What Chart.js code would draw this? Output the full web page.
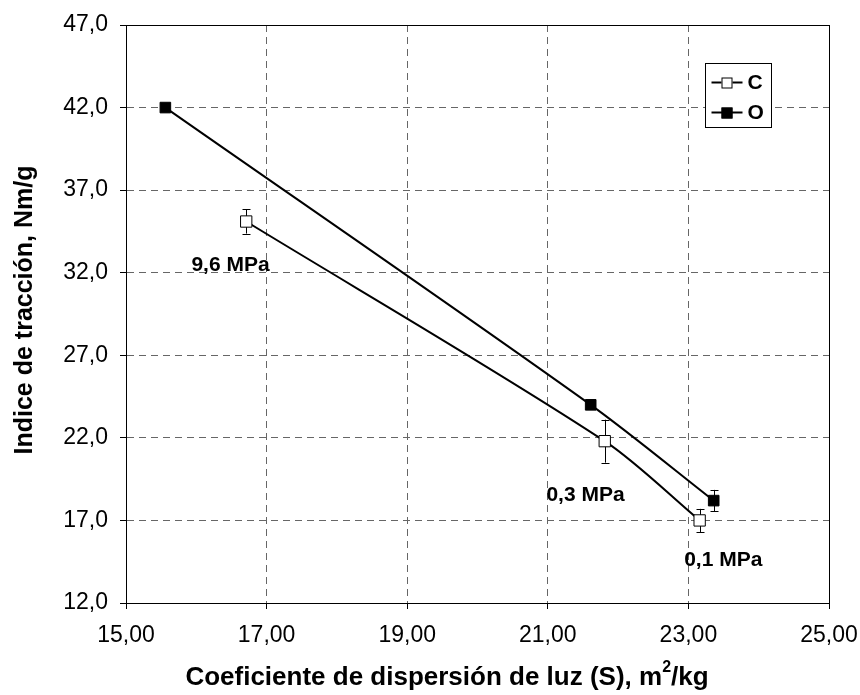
<!DOCTYPE html>
<html>
<head>
<meta charset="utf-8">
<script src="https://cdn.jsdelivr.net/npm/chart.js@4.4.1/dist/chart.umd.min.js"></script>
<style>
  html, body { margin: 0; padding: 0; background: #fff; }
  #wrap { width: 860px; height: 695px; }
</style>
</head>
<body>
<div id="wrap"><canvas id="tensileChart" width="860" height="695"></canvas></div>
<script>
/* ====== DATA ====== */
const seriesNames = ['C', 'O'];
const cScatter = [16.71, 21.81, 23.16];
const cTensile = [35.1, 21.8, 17.0];
const cError   = [0.73, 1.3, 0.7];
const oScatter = [15.56, 21.61, 23.36];
const oTensile = [42.0, 24.0, 18.2];
const oError   = [0.2, 0.2, 0.65];
const pressureNotes = ['9,6 MPa', '0,3 MPa', '0,1 MPa'];
const xTicks = [15, 17, 19, 21, 23, 25];
const yTicks = [12, 17, 22, 27, 32, 37, 42, 47];
const yTitle = 'Indice de tracción, Nm/g';
const xTitleParts = ['Coeficiente de dispersión de luz (S), m', '2', '/kg'];

// where the pressure notes sit (data units: left edge, middle)
const noteAnchors = [[15.93, 32.45], [20.98, 18.5], [22.94, 14.6]];

const FONT = '"Liberation Sans", Arial, sans-serif';

function toPoints(xs, ys) {
  return xs.map((x, i) => ({ x: x, y: ys[i] }));
}

/* ====== PLUGINS ====== */
// plot frame + error bars under the markers
const framePlugin = {
  id: 'frame',
  beforeDatasetsDraw(chart) {
    const { ctx, chartArea: a, scales } = chart;
    ctx.save();
    ctx.strokeStyle = '#000';
    ctx.lineWidth = 1;
    ctx.strokeRect(Math.round(a.left) + 0.5, Math.round(a.top) + 0.5,
                   Math.round(a.right - a.left), Math.round(a.bottom - a.top));

    // error bars
    chart.data.datasets.forEach(ds => {
      ds.errors.forEach((e, i) => {
        const px = scales.x.getPixelForValue(ds.data[i].x);
        const top = scales.y.getPixelForValue(ds.data[i].y + e);
        const bot = scales.y.getPixelForValue(ds.data[i].y - e);
        const x = Math.round(px) + 0.5;
        ctx.beginPath();
        ctx.moveTo(x, top); ctx.lineTo(x, bot);
        ctx.moveTo(x - 4, Math.round(top) + 0.5); ctx.lineTo(x + 4, Math.round(top) + 0.5);
        ctx.moveTo(x - 4, Math.round(bot) + 0.5); ctx.lineTo(x + 4, Math.round(bot) + 0.5);
        ctx.stroke();
      });
    });
    ctx.restore();
  }
};

// pressure notes, legend box and axis titles
const decorPlugin = {
  id: 'decor',
  afterDraw(chart) {
    const { ctx, chartArea: a, scales } = chart;
    ctx.save();
    ctx.fillStyle = '#000';

    // notes
    ctx.font = 'bold 21px ' + FONT;
    ctx.textAlign = 'left';
    ctx.textBaseline = 'middle';
    pressureNotes.forEach((t, i) => {
      ctx.fillText(t, scales.x.getPixelForValue(noteAnchors[i][0]),
                      scales.y.getPixelForValue(noteAnchors[i][1]));
    });

    // legend
    const bx = Math.round(a.right) - 123.5, by = Math.round(a.top) + 38.5;
    ctx.fillStyle = '#fff';
    ctx.fillRect(bx, by, 66, 64);
    ctx.strokeStyle = '#000';
    ctx.lineWidth = 1;
    ctx.strokeRect(bx, by, 66, 64);
    chart.data.datasets.forEach((ds, i) => {
      const ly = by + 19 + i * 30;
      ctx.strokeStyle = '#000';
      ctx.lineWidth = 2;
      ctx.beginPath();
      ctx.moveTo(bx + 6, ly); ctx.lineTo(bx + 37, ly);
      ctx.stroke();
      ctx.fillStyle = ds.pointBackgroundColor;
      ctx.fillRect(bx + 16, ly - 5, 11, 11);
      ctx.lineWidth = 1;
      ctx.strokeRect(bx + 16.5, ly - 4.5, 10, 10);
      ctx.fillStyle = '#000';
      ctx.font = 'bold 21px ' + FONT;
      ctx.textAlign = 'left';
      ctx.textBaseline = 'middle';
      ctx.fillText(ds.label, bx + 42, ly + 1);
    });

    // y title
    ctx.font = 'bold 25px ' + FONT;
    ctx.textAlign = 'center';
    ctx.textBaseline = 'middle';
    ctx.save();
    ctx.translate(a.left - 101, a.top + 285);
    ctx.rotate(-Math.PI / 2);
    ctx.fillText(yTitle, 0, 0);
    ctx.restore();

    // x title with superscript
    const supFont = 'bold 16px ' + FONT;
    ctx.font = 'bold 26px ' + FONT;
    const w0 = ctx.measureText(xTitleParts[0]).width;
    const w2 = ctx.measureText(xTitleParts[2]).width;
    ctx.font = supFont;
    const w1 = ctx.measureText(xTitleParts[1]).width;
    let tx = a.left + 321 - (w0 + w1 + w2) / 2;
    const ty = 678;
    ctx.textAlign = 'left';
    ctx.font = 'bold 26px ' + FONT;
    ctx.fillText(xTitleParts[0], tx, ty);
    tx += w0;
    ctx.font = supFont;
    ctx.fillText(xTitleParts[1], tx, ty - 10);
    tx += w1;
    ctx.font = 'bold 26px ' + FONT;
    ctx.fillText(xTitleParts[2], tx, ty);
    ctx.restore();
  }
};

/* ====== CHART ====== */
const ctx = document.getElementById('tensileChart');
new Chart(ctx.getContext('2d'), {
  type: 'line',
  data: {
    datasets: [{
      label: seriesNames[0],
      data: toPoints(cScatter, cTensile),
      errors: cError,
      borderColor: '#000',
      borderWidth: 2,
      tension: 0.3,
      pointStyle: 'rect',
      pointRadius: 8,
      pointBackgroundColor: '#fff',
      pointBorderColor: '#000',
      pointBorderWidth: 1
    }, {
      label: seriesNames[1],
      data: toPoints(oScatter, oTensile),
      errors: oError,
      borderColor: '#000',
      borderWidth: 2,
      tension: 0.3,
      pointStyle: 'rect',
      pointRadius: 7.5,
      pointBackgroundColor: '#000',
      pointBorderColor: '#000',
      pointBorderWidth: 1
    }]
  },
  options: {
    responsive: false,
    animation: false,
    layout: { padding: { top: 25, right: 31, left: 0, bottom: 0 } },
    plugins: { legend: { display: false }, tooltip: { enabled: false } },
    scales: {
      x: {
        type: 'linear', min: 15, max: 25,
        afterBuildTicks: s => { s.ticks = xTicks.map(v => ({ value: v })); },
        afterFit: s => { s.height = 92; s.paddingLeft = 0; s.paddingRight = 0; },
        ticks: {
          color: '#000', padding: 13, maxRotation: 0,
          font: { family: FONT, size: 23 },
          callback: v => v.toFixed(2).replace('.', ',')
        },
        grid: { color: '#666', tickColor: '#000', tickLength: 6, tickWidth: 1 },
        border: { display: true, color: '#000', width: 1, dash: [7, 5] }
      },
      y: {
        type: 'linear', min: 12, max: 47,
        afterBuildTicks: s => { s.ticks = yTicks.map(v => ({ value: v })); },
        afterFit: s => { s.width = 126; s.paddingTop = 0; s.paddingBottom = 0; },
        ticks: {
          color: '#000', padding: 12,
          font: { family: FONT, size: 23 },
          callback: v => v.toFixed(1).replace('.', ',')
        },
        grid: { color: '#666', tickColor: '#000', tickLength: 6, tickWidth: 1 },
        border: { display: true, color: '#000', width: 1, dash: [7, 5] }
      }
    }
  },
  plugins: [framePlugin, decorPlugin]
});
</script>
</body>
</html>
